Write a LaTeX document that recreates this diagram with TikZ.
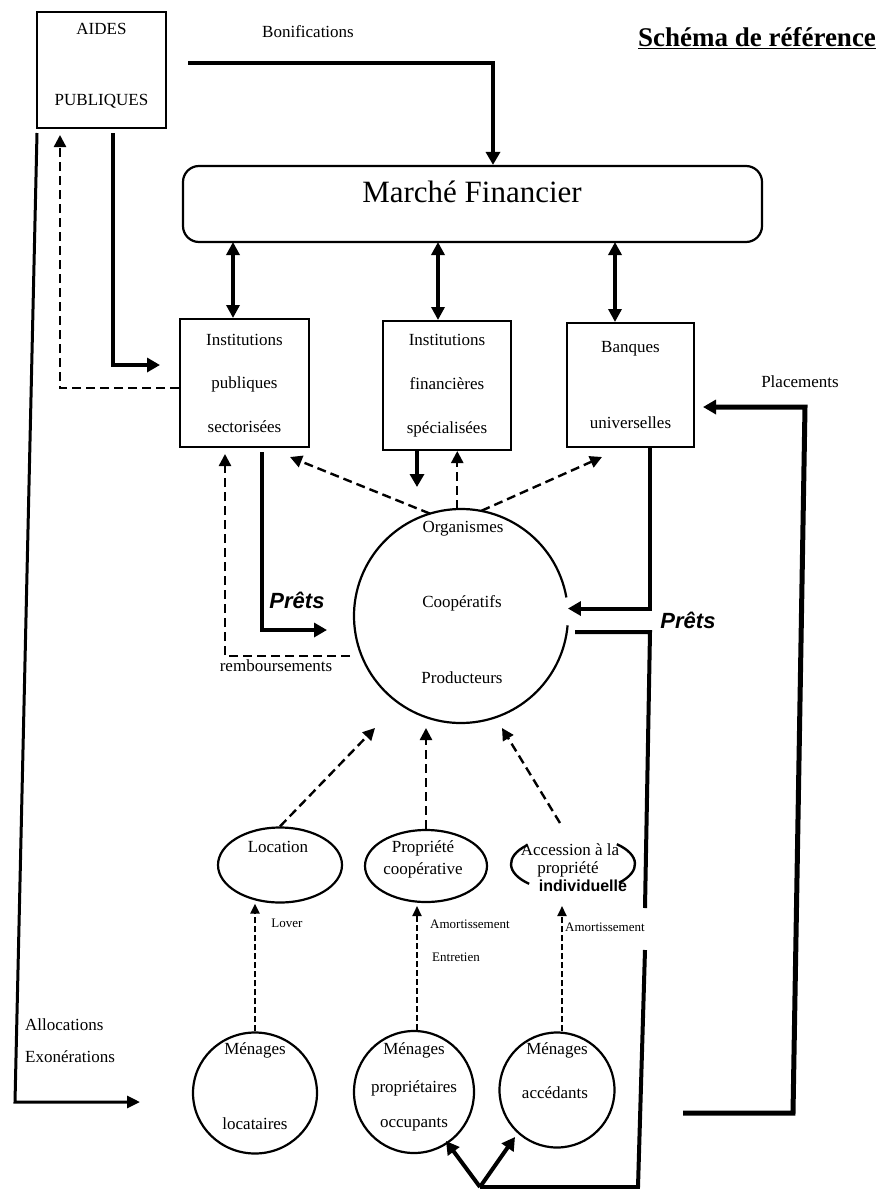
\documentclass[tikz,border=0pt]{standalone}
\usepackage{fontspec}
\setmainfont{Liberation Serif}
\newfontfamily\handfont{Liberation Sans}
\usetikzlibrary{arrows.meta,shapes.geometric}

\begin{document}
\begin{tikzpicture}[x=1pt,y=-1pt,
  every node/.style={font=\fontsize{17}{20}\selectfont, inner sep=0pt},
  box/.style={draw, line width=2pt, inner sep=0pt, align=center},
  ring/.style={draw, line width=2.2pt, ellipse, inner sep=0pt},
  heavy/.style={line width=4pt},
  heavyarrow/.style={line width=4pt, -{Triangle[length=13pt,width=14pt]}},
  duo/.style={line width=4pt, {Triangle[length=13pt,width=13pt]}-{Triangle[length=13pt,width=13pt]}},
  slimarrow/.style={line width=3pt, -{Triangle[length=13pt,width=12pt]}},
  flow/.style={line width=2.4pt, dash pattern=on 9pt off 5pt, -{Triangle[length=12pt,width=12pt]}},
  flowfine/.style={line width=2.2pt, dash pattern=on 6pt off 3pt, -{Triangle[length=10pt,width=9pt]}},
  smalltext/.style={font=\fontsize{13}{15}\selectfont},
  hand/.style={font=\handfont\bfseries\itshape\fontsize{22}{24}\selectfont},
]
\fill[white] (0,0) rectangle (884,1189);
\useasboundingbox (0,0) rectangle (884,1189);

% ---------- top: public aids, title, financial market ----------
\node[box, minimum width=129pt, minimum height=116pt] (aides) at (101.5,70) {};
\node (aidesA) at (101.5,29) {AIDES};
\node (aidesB) at (101.5,101) {PUBLIQUES};
\node (bonif) at (308,32) {Bonifications};
\node[font=\bfseries\fontsize{27}{30}\selectfont] (titre) at (757,38) {\underline{Schéma de référence}};

\node[draw, line width=2.2pt, rounded corners=16pt, minimum width=579pt, minimum height=76pt] (marche) at (472.5,204) {};
\node[font=\fontsize{31}{34}\selectfont] (marcheT) at (472,192) {Marché Financier};

% ---------- institutions ----------
\node[box, minimum width=129pt, minimum height=128pt, font=\fontsize{17}{43.5}\selectfont] (ips) at (244.5,383) {Institutions\\publiques\\sectorisées};
\node[box, minimum width=128pt, minimum height=129pt, font=\fontsize{17}{44}\selectfont] (ifs) at (447,385.5) {Institutions\\financières\\spécialisées};
\node[box, minimum width=127pt, minimum height=124pt, font=\fontsize{17}{76}\selectfont] (bu) at (630.5,385) {Banques\\universelles};

% ---------- producers ----------
\node[circle, minimum size=214pt, inner sep=0pt] (org) at (461,616) {};
\draw[line width=2.2pt] ([shift={(10:107pt)}]org.center) arc[start angle=10, end angle=355, radius=107pt];
\node (orgA) at (463,529) {Organismes};
\node (orgB) at (462,603) {Coopératifs};
\node (orgC) at (462,678) {Producteurs};

% ---------- tenure forms ----------
\node[ring, minimum width=124pt, minimum height=75pt] (loc) at (280,865) {};
\node (locT) at (278,847) {Location};
\node[ring, minimum width=122pt, minimum height=72pt] (pco) at (426,866) {};
\node (pcoA) at (423,848) {Propriété};
\node (pcoB) at (423,870) {coopérative};
\coordinate (acc) at (573,864);
\draw[line width=2.4pt] ([shift={(138:62pt and 28pt)}]acc) arc[start angle=138, end angle=225, x radius=62pt, y radius=28pt];
\draw[line width=2.4pt] ([shift={(-42:62pt and 28pt)}]acc) arc[start angle=-42, end angle=45, x radius=62pt, y radius=28pt];
\node (accA) at (570,850) {Accession à la};
\node (accB) at (568,869) {propriété};
\node[font=\handfont\bfseries\fontsize{16}{18}\selectfont] (accC) at (583,886) {individuelle};

% ---------- households ----------
\node[ring, minimum width=124pt, minimum height=121pt] (mloc) at (255,1093) {};
\node (mlocA) at (255,1050) {Ménages};
\node (mlocB) at (255,1124) {locataires};
\node[ring, minimum width=120pt, minimum height=122pt] (mpo) at (414,1092) {};
\node (mpoA) at (414,1050) {Ménages};
\node (mpoB) at (414,1088) {propriétaires};
\node (mpoC) at (414,1125) {occupants};
\node[ring, minimum width=115pt, minimum height=115pt] (mac) at (557,1090) {};
\node (macA) at (557,1050) {Ménages};
\node (macB) at (555,1093) {accédants};

% ---------- labels ----------
\node (remb) at (276,666) {remboursements};
\node (plac) at (800,382) {Placements};
\node[anchor=west] (alloc) at (25,1025) {Allocations};
\node[anchor=west] (exo) at (25,1057) {Exonérations};
\node[smalltext] (lover) at (287,923) {Lover};
\node[smalltext, anchor=west] (amo1) at (430,924) {Amortissement};
\node[smalltext, anchor=west] (entr) at (432,957) {Entretien};
\node[smalltext, anchor=west] (amo2) at (565,927) {Amortissement};
\node[hand] (pretsL) at (297,600) {Prêts};
\node[hand] (pretsR) at (688,620) {Prêts};

% ---------- connectors ----------
% bonifications to the market
\coordinate (bon0) at (188,63);
\coordinate (bon1) at (493,63);
\draw[heavyarrow] (bon0) -- (bon1) -- (bon1 |- marche.north);

% market <-> institutions
\coordinate (d1) at (233,242);
\coordinate (d2) at (438,242);
\coordinate (d3) at (615,242);
\draw[duo] (d1) -- (d1 |- ips.north);
\draw[duo] (d2) -- (d2 |- ifs.north);
\draw[duo] (d3) -- (d3 |- bu.north);

% public aids: allocations to households
\coordinate (al0) at (37,133);
\coordinate (al1) at (15,1102);
\coordinate (al2) at (140,1102);
\draw[slimarrow] (al0) -- (al1) -- (al2);

% public aids to the sector institutions, and back
\coordinate (at0) at (113,133);
\coordinate (at1) at (160,365);
\draw[heavyarrow] (at0) |- (at1);
\coordinate (ad0) at (60,135);
\draw[flow] ([yshift=-5pt]ips.west) -| (ad0);

% loans and repayments, sector institutions
\coordinate (pl0) at (262,452);
\coordinate (pl1) at (327,630);
\draw[heavyarrow] (pl0) |- (pl1);
\coordinate (rb0) at (350,656);
\coordinate (rb1) at (225,454);
\draw[flow] (rb0) -| (rb1);

% producers <-> institutions
\coordinate (oi) at (290,457);
\draw[flow] (org.107) -- (oi);
\coordinate (fi1) at (417,487);
\draw[heavyarrow] (ifs.south -| fi1) -- (fi1);
\draw[flow] (org.92) -- (org.92 |- ifs.south);
\coordinate (ob) at (602,457);
\draw[flow] (org.79) -- (ob);

% universal banks: loans
\coordinate (bo0) at (650,447);
\draw[heavyarrow] (bo0) |- (org.4);

% producers to owner households
\coordinate (rl0) at (575,632);
\coordinate (rl1) at (650,632);
\coordinate (rl2) at (645,908);
\draw[heavy] (rl0) -- (rl1) -- (rl2);
\coordinate (rl3) at (645,950);
\coordinate (rl4) at (638,1187);
\coordinate (vx) at (480,1187);
\draw[heavy] (rl3) -- (rl4) -- (vx);
\coordinate (v1) at (446,1141);
\coordinate (v2) at (515,1137);
\draw[heavyarrow] (vx) -- (v1);
\draw[heavyarrow] (vx) -- (v2);

% placements
\coordinate (pc0) at (683,1113);
\coordinate (pc1) at (793,1113);
\coordinate (pc2) at (805,407);
\coordinate (pc3) at (703,407);
\draw[heavyarrow, line width=5pt] (pc0) -- (pc1) -- (pc2) -- (pc3);

% tenure forms to producers
\coordinate (t1) at (375,728);
\draw[flow] (loc.north) -- (t1);
\coordinate (t2) at (426,728);
\draw[flow] (pco.north) -- (t2);
\coordinate (s3) at (560,823);
\coordinate (t3) at (502,728);
\draw[flow] (s3) -- (t3);

% households to tenure forms
\draw[flowfine] (mloc.north) -- (mloc.north |- loc.south);
\coordinate (h2) at (417,906);
\draw[flowfine] (h2 |- mpo.north) -- (h2);
\coordinate (h3) at (562,906);
\draw[flowfine] (h3 |- mac.north) -- (h3);
\end{tikzpicture}
\end{document}
